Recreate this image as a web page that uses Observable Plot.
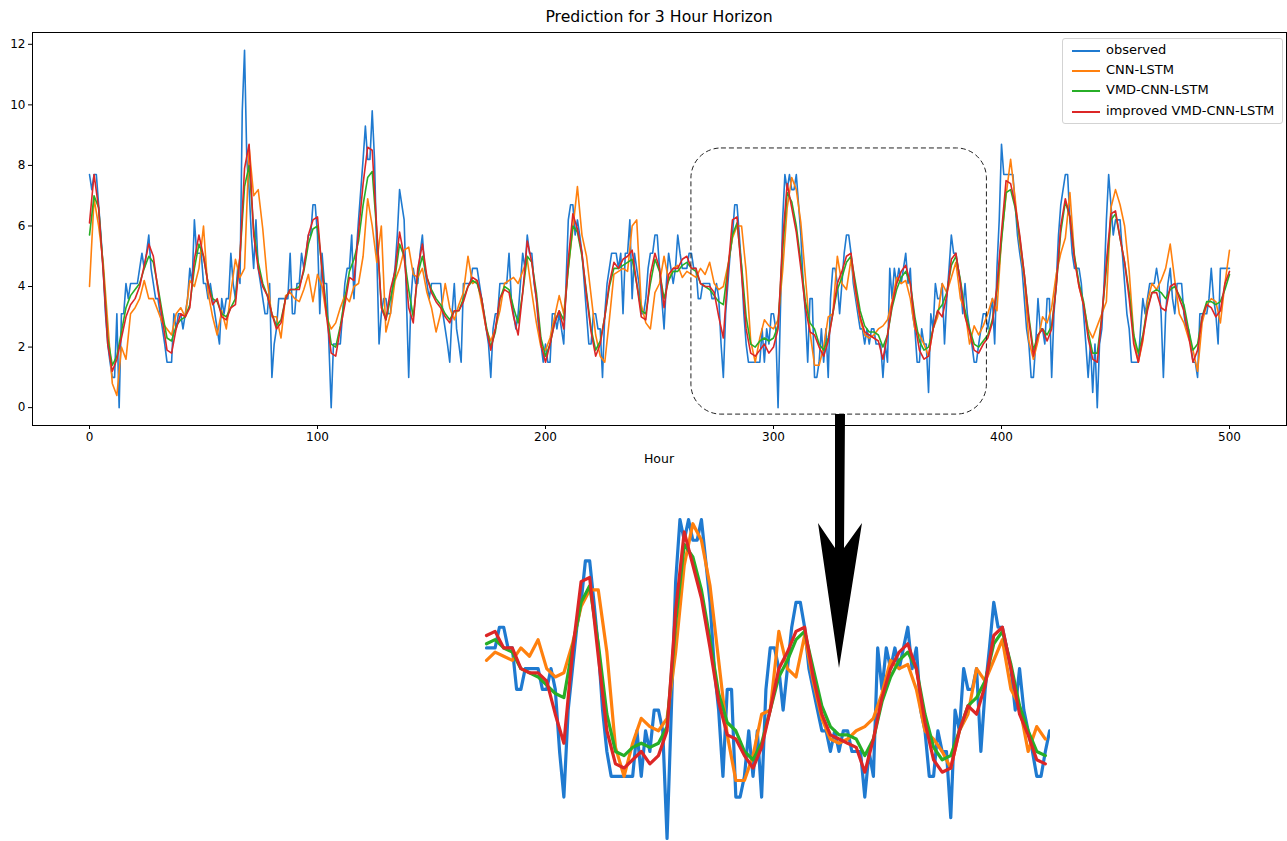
<!DOCTYPE html>
<html><head><meta charset="utf-8">
<script src="https://cdn.jsdelivr.net/npm/d3@7"></script>
<script src="https://cdn.jsdelivr.net/npm/@observablehq/plot@0.6"></script>
<style>
body{margin:0;background:#fff;font-family:"DejaVu Sans",sans-serif;color:#000}
#wrap{position:relative;width:1287px;height:841px;overflow:hidden;background:#fff}
#title{position:absolute;top:7px;left:32px;width:1254px;text-align:center;font-size:15.7px}
#xlabel{position:absolute;top:451px;left:32px;width:1254px;text-align:center;font-size:12.5px}
#main{position:absolute;left:0;top:0}
#inset{position:absolute;left:483px;top:500px}
#legend{position:absolute;left:1062px;top:38px;width:219px;height:84px;border:1px solid #d3d3d3;border-radius:3px;background:rgba(255,255,255,0.85);font-size:13px}
.row{position:absolute;left:0;height:20px;width:100%}
.row span.sw{position:absolute;left:9px;top:9px;width:28px;height:0;border-top:2px solid}
.row span.tx{position:absolute;left:43px;top:1px;white-space:nowrap}
#arrow{position:absolute;left:0;top:0}
</style></head>
<body><div id="wrap">
<div id="main"></div>
<div id="inset"></div>
<svg id="arrow" width="1287" height="841"></svg>
<div id="title">Prediction for 3 Hour Horizon</div>
<div id="xlabel">Hour</div>
<div id="legend"></div>
</div>
<script>
// observed, hourly 0..500
const observed = [
7.7,7.2,7.7,7.7,6.7,5.7,4.6,3.1,2.1,1.5,
1.0,1.0,3.1,0.0,3.1,3.1,4.1,3.6,4.1,4.1,
4.1,4.1,4.6,5.1,4.6,5.1,5.7,4.6,4.1,3.6,
3.6,3.1,2.6,2.1,1.5,1.5,1.5,3.1,2.6,3.1,
3.1,2.6,3.1,3.6,4.6,4.1,6.2,5.1,5.1,5.1,
4.1,4.1,3.6,4.1,3.6,3.1,2.6,2.1,3.6,3.1,
3.6,3.6,5.1,4.1,3.6,4.6,4.1,9.8,11.8,8.2,
7.2,5.7,4.6,6.2,4.6,4.1,3.6,3.1,3.1,4.1,
1.0,2.1,2.6,3.6,3.6,3.6,3.6,3.6,5.1,3.1,
3.1,4.1,4.1,5.1,4.6,5.1,5.7,5.7,6.7,6.7,
5.7,3.1,5.1,4.1,4.1,2.1,0.0,2.1,2.1,2.1,
2.1,3.1,4.1,4.6,4.6,5.7,3.6,5.1,6.2,7.2,
8.2,9.3,8.2,8.2,9.8,8.2,5.1,2.1,3.1,3.6,
3.6,3.1,3.1,4.1,4.6,5.7,7.2,6.7,6.2,3.6,
1.0,3.6,4.6,4.1,4.1,5.1,5.7,4.6,4.1,3.6,
4.1,4.1,4.1,4.1,4.1,3.1,2.6,2.1,1.5,3.1,
4.1,2.6,2.1,1.5,4.1,4.1,4.1,4.1,4.6,4.6,
4.6,4.1,3.6,3.1,2.6,2.1,1.0,2.6,3.1,3.1,
4.1,4.1,4.1,4.1,5.1,3.6,3.1,2.6,3.1,4.1,
5.1,4.6,5.7,5.1,5.1,4.1,3.6,2.6,2.1,1.5,
2.1,1.5,1.5,3.1,3.1,2.6,3.1,2.6,2.1,4.1,
6.2,6.7,6.7,5.7,6.2,5.7,5.1,4.1,3.1,2.1,
2.1,3.1,3.1,2.6,2.6,1.0,3.1,4.1,4.6,5.1,
5.1,5.1,4.6,5.1,3.1,5.1,5.1,6.2,3.6,5.1,
4.6,4.1,3.1,3.1,3.6,4.6,5.1,5.1,5.7,5.7,
4.6,3.6,2.6,4.1,5.1,4.6,4.1,4.6,5.7,5.1,
4.6,4.6,4.6,5.1,5.1,4.6,4.6,3.6,3.6,4.1,
4.1,4.1,4.1,3.6,3.6,4.1,3.6,2.1,1.0,3.1,
4.1,5.1,5.7,6.7,6.7,5.7,4.6,3.1,2.1,1.5,
1.5,1.5,1.5,1.5,1.5,2.6,1.5,2.6,2.1,3.1,
3.1,2.6,0.0,3.1,6.2,7.7,7.2,7.7,7.2,7.2,
7.7,6.7,5.7,4.1,3.1,1.5,3.6,3.6,1.0,1.0,
1.5,2.6,1.5,2.6,1.0,3.6,4.6,4.6,4.1,3.1,
4.1,5.1,5.7,5.7,5.1,4.1,3.6,3.1,2.6,2.6,
2.1,2.6,2.1,2.6,2.6,2.1,2.1,2.1,1.0,2.1,
1.5,4.6,3.6,4.6,4.1,4.6,4.1,4.6,5.1,4.1,
4.6,3.1,2.6,1.5,1.5,2.6,2.1,2.1,0.5,3.1,
2.6,4.1,3.6,3.6,4.1,2.1,3.6,4.6,5.7,5.1,
5.1,4.6,4.1,3.1,4.1,3.1,2.6,2.1,1.5,1.5,
2.1,2.6,3.1,3.1,2.6,3.1,3.6,2.1,4.6,6.2,
8.7,7.7,7.7,7.7,7.7,7.7,6.7,5.7,5.1,4.6,
3.6,2.6,2.1,1.0,1.0,2.1,3.6,2.6,2.6,2.1,
3.6,3.6,1.0,3.1,4.1,5.7,6.7,7.2,7.7,7.7,
6.2,5.1,4.6,4.6,4.6,4.1,3.1,2.1,1.0,2.1,
0.5,2.1,0.0,2.1,2.6,4.1,6.2,7.7,6.7,5.7,
6.2,6.2,6.2,5.1,4.1,3.1,2.6,1.5,1.5,1.5,
1.5,2.6,3.6,3.1,3.6,4.1,4.1,4.1,4.6,4.1,
3.1,1.0,3.1,4.1,4.6,3.6,3.1,4.1,4.1,4.1,
3.1,2.6,2.6,2.1,1.5,1.5,1.0,3.1,3.1,3.1,
3.1,3.6,4.6,3.6,3.1,2.1,4.6,4.6,4.6,4.6,
4.6];

// model predictions, every 2 hours 0..500
const predHours = d3.range(0, 501, 2);
const cnnLstm = [
4.0,6.9,6.0,4.8,2.8,0.8,0.4,2.0,1.6,3.1,
3.3,3.6,4.2,3.6,3.6,3.2,2.8,2.6,2.4,3.1,
3.3,3.0,4.2,4.0,4.6,6.0,3.8,3.0,2.4,3.2,
2.6,3.8,4.9,4.3,4.6,8.6,7.0,7.2,5.9,4.2,
3.0,3.0,2.3,3.7,3.8,3.6,3.5,3.9,4.4,3.5,
4.4,4.0,3.0,2.6,2.8,3.3,3.7,3.5,4.0,4.1,
5.0,6.9,6.0,4.8,6.0,2.5,3.1,4.2,4.6,5.2,
5.3,4.4,4.3,4.6,3.8,3.3,2.5,3.1,4.1,3.3,
2.9,3.4,3.8,5.0,4.1,4.2,3.4,2.6,2.2,2.6,
3.2,4.1,4.2,4.3,4.1,4.5,4.9,3.8,2.8,2.0,
1.9,2.3,3.0,3.7,3.1,4.6,5.9,7.3,5.7,5.0,
3.7,2.4,1.7,1.5,2.9,4.4,4.5,4.6,4.5,6.0,
6.2,3.4,2.8,2.6,3.8,4.1,5.0,4.2,4.6,4.7,
4.3,4.5,4.4,4.3,4.6,4.4,4.8,4.1,3.9,4.0,
4.7,5.6,6.0,6.0,4.5,2.2,1.5,2.3,2.9,2.7,
2.6,2.9,4.5,6.6,7.6,7.2,6.1,4.3,2.5,1.4,
1.4,2.0,3.0,3.1,5.0,4.1,3.9,4.9,3.8,2.9,
2.4,2.3,2.4,2.6,2.7,2.9,3.5,4.3,4.1,4.2,
3.6,2.6,2.4,2.1,1.7,2.6,3.0,4.1,3.8,4.3,
4.8,3.6,3.2,2.1,2.7,2.4,2.7,3.1,3.6,3.2,
5.6,7.0,8.2,6.9,5.4,4.3,2.2,1.6,2.2,3.0,
2.8,3.3,4.4,5.1,5.6,7.1,5.0,4.0,3.4,2.6,
2.3,2.7,3.1,3.5,6.6,7.2,6.7,6.0,4.5,2.4,
1.5,2.2,3.5,4.1,3.9,4.2,4.6,5.4,4.2,3.1,
2.8,2.3,1.9,1.2,2.8,3.4,3.6,3.5,2.8,4.1,
5.2];
const vmdCnnLstm = [
5.7,7.0,6.6,4.6,2.3,1.4,1.7,2.5,3.3,3.7,
3.9,4.1,4.6,5.0,4.8,4.0,3.1,2.3,2.2,2.7,
2.9,3.0,3.4,4.6,5.4,5.0,4.1,3.6,3.5,3.1,
3.0,3.3,3.6,5.0,7.3,8.0,5.9,4.8,4.1,3.7,
3.1,2.7,2.9,3.6,3.9,3.9,4.0,4.5,5.4,5.9,
6.0,4.6,3.2,2.1,2.0,2.7,3.6,4.5,4.9,5.5,
6.7,7.6,7.8,5.8,3.4,2.9,3.6,4.3,5.4,5.0,
3.9,3.0,4.4,5.0,4.3,3.9,3.6,3.4,3.1,2.9,
3.2,3.2,3.6,4.0,4.2,4.1,3.6,2.7,2.0,2.5,
3.6,4.0,3.9,3.3,2.8,3.8,5.0,4.8,3.8,2.3,
1.7,2.1,2.8,3.2,2.9,4.6,6.0,5.8,5.0,3.8,
2.6,1.9,2.2,3.0,4.0,4.6,4.6,4.7,4.8,4.9,
4.1,3.2,3.1,4.1,4.9,4.5,3.6,4.2,4.5,4.5,
4.7,4.8,4.6,4.5,4.1,4.0,3.9,3.7,3.5,3.4,
4.6,5.7,6.1,4.7,3.0,2.1,2.0,2.2,2.3,2.2,
2.3,2.7,5.2,7.1,6.8,6.0,4.8,3.5,2.8,2.6,
2.1,1.9,2.3,3.1,3.9,4.3,4.8,5.0,4.1,3.2,
2.7,2.5,2.5,2.4,2.0,2.4,3.3,3.9,4.3,4.5,
4.1,3.0,2.2,1.9,2.0,2.6,3.2,3.4,3.8,4.7,
5.0,4.2,3.2,2.6,2.1,2.0,2.2,2.4,2.9,3.9,
5.5,7.1,7.2,6.6,5.6,4.4,3.0,1.9,2.4,2.6,
2.4,2.7,4.0,5.8,6.8,6.3,5.0,4.1,3.5,2.5,
1.8,1.8,3.0,4.6,6.2,6.4,5.6,4.8,3.8,2.4,
1.8,2.4,3.3,3.8,3.9,3.8,3.6,3.9,4.0,3.7,
3.4,2.6,1.9,2.1,3.0,3.5,3.5,3.4,3.5,3.9,
4.4];
const improvedVmd = [
6.1,7.7,6.6,4.5,2.1,1.2,1.6,2.3,3.0,3.4,
3.6,4.0,4.7,5.4,5.0,3.9,2.9,1.9,1.8,2.6,
3.1,3.0,3.3,4.9,5.7,5.0,4.1,3.4,3.6,3.0,
2.9,3.3,3.4,5.0,7.9,8.7,5.7,4.6,4.0,3.7,
3.1,2.6,2.8,3.6,3.9,3.9,3.9,4.6,5.7,6.2,
6.3,4.5,3.0,1.8,1.7,2.6,3.4,4.3,4.2,5.8,
7.4,8.6,8.5,5.9,3.3,2.9,3.9,4.5,5.8,5.0,
3.3,2.8,4.6,5.4,4.3,3.8,3.5,3.3,3.0,2.8,
3.2,3.2,3.5,4.0,4.3,4.2,3.6,2.6,1.9,2.6,
3.6,3.9,3.8,3.0,2.4,3.8,5.5,4.8,3.6,2.1,
1.5,2.1,2.8,3.2,2.6,4.9,6.4,5.9,5.1,3.7,
2.5,1.7,2.1,3.0,4.1,4.8,4.6,4.9,5.0,5.2,
4.1,3.0,2.9,4.4,5.1,4.6,3.3,4.4,4.6,4.6,
4.9,5.0,4.6,4.6,4.1,4.0,4.0,3.8,3.0,2.3,
4.5,6.2,6.3,4.4,2.6,1.8,1.7,1.9,2.1,1.8,
2.0,2.6,5.5,7.4,6.6,5.8,4.6,3.3,2.5,2.4,
2.0,1.7,2.2,3.1,4.1,4.5,5.0,5.1,3.9,3.0,
2.5,2.4,2.3,2.2,1.6,2.4,3.4,4.1,4.5,4.7,
4.1,2.8,1.9,1.6,1.7,2.6,3.2,3.0,3.7,4.9,
5.1,4.1,3.0,2.5,1.9,1.8,2.1,2.3,2.8,4.0,
5.8,7.5,7.4,6.7,5.7,4.4,2.9,1.7,2.4,2.6,
2.2,2.6,4.0,6.0,6.9,6.3,4.9,4.0,3.4,2.3,
1.6,1.5,3.0,4.8,6.4,6.5,5.6,4.8,3.6,2.1,
1.5,2.3,3.2,3.8,3.8,3.3,3.2,4.0,4.1,3.6,
3.2,2.4,1.5,1.9,3.0,3.4,3.3,3.0,3.2,4.1,
4.5];

const seriesNames = ["observed", "CNN-LSTM", "VMD-CNN-LSTM", "improved VMD-CNN-LSTM"];
const seriesColors = ["#1f7ad0", "#ff800e", "#27ae27", "#dc2626"];
const xTicks = [0, 100, 200, 300, 400, 500];
const yTicks = [0, 2, 4, 6, 8, 10, 12];
const zoomBoxHours = [264, 393.6];
const zoomBoxValues = [-0.23, 8.56];
const insetHours = [259.3, 391.2];

const obsData = observed.map((v, i) => ({h: i, v}));
const toPts = arr => arr.map((v, i) => ({h: predHours[i], v}));
const allSeries = [obsData, toPts(cnnLstm), toPts(vmdCnnLstm), toPts(improvedVmd)];

const main = Plot.plot({
  width: 1287, height: 470,
  marginLeft: 32, marginRight: 1, marginTop: 32, marginBottom: 45,
  style: {fontFamily: "DejaVu Sans, sans-serif", fontSize: "12px", color: "#000", background: "transparent"},
  x: {domain: [-25, 525], label: null},
  y: {domain: [-0.59, 12.39], label: null},
  marks: [
    ...allSeries.map((d, k) => Plot.line(d, {x: "h", y: "v", stroke: seriesColors[k], strokeWidth: 1.6})),
    Plot.rect([{x1: zoomBoxHours[0], x2: zoomBoxHours[1], y1: zoomBoxValues[0], y2: zoomBoxValues[1]}],
      {x1: "x1", x2: "x2", y1: "y1", y2: "y2", fill: "none", stroke: "#222", strokeWidth: 1, strokeDasharray: "5,3", rx: 30, ry: 30}),
    Plot.frame({stroke: "#000", strokeWidth: 1}),
    Plot.axisX({ticks: xTicks, tickSize: 4, tickPadding: 3, label: null, tickFormat: d => String(d)}),
    Plot.axisY({ticks: yTicks, tickSize: 4, tickPadding: 3, label: null, tickFormat: d => String(d)})
  ]
});
document.getElementById("main").appendChild(main);

const inset = Plot.plot({
  width: 567, height: 345,
  margin: 0,
  style: {background: "transparent"},
  x: {domain: insetHours, axis: null},
  y: {domain: [-0.17, 8.16], axis: null},
  marks: allSeries.map((d, k) => Plot.line(d.filter(p => p.h >= 260 && p.h <= 391),
    {x: "h", y: "v", stroke: seriesColors[k], strokeWidth: 3.2}))
});
document.getElementById("inset").appendChild(inset);

// legend
const leg = document.getElementById("legend");
const rowTops = [2, 22, 42, 63];
seriesNames.forEach((n, k) => {
  const r = document.createElement("div");
  r.className = "row"; r.style.top = rowTops[k] + "px";
  r.innerHTML = `<span class="sw" style="border-color:${seriesColors[k]}"></span><span class="tx">${n}</span>`;
  leg.appendChild(r);
});

// arrow annotation
const svg = d3.select("#arrow");
svg.append("path")
  .attr("d", "M835,414 L845,414 L844,548 L862,523 L839,668 L818,523 L835,548 Z")
  .attr("fill", "#000");
</script>
</body></html>
